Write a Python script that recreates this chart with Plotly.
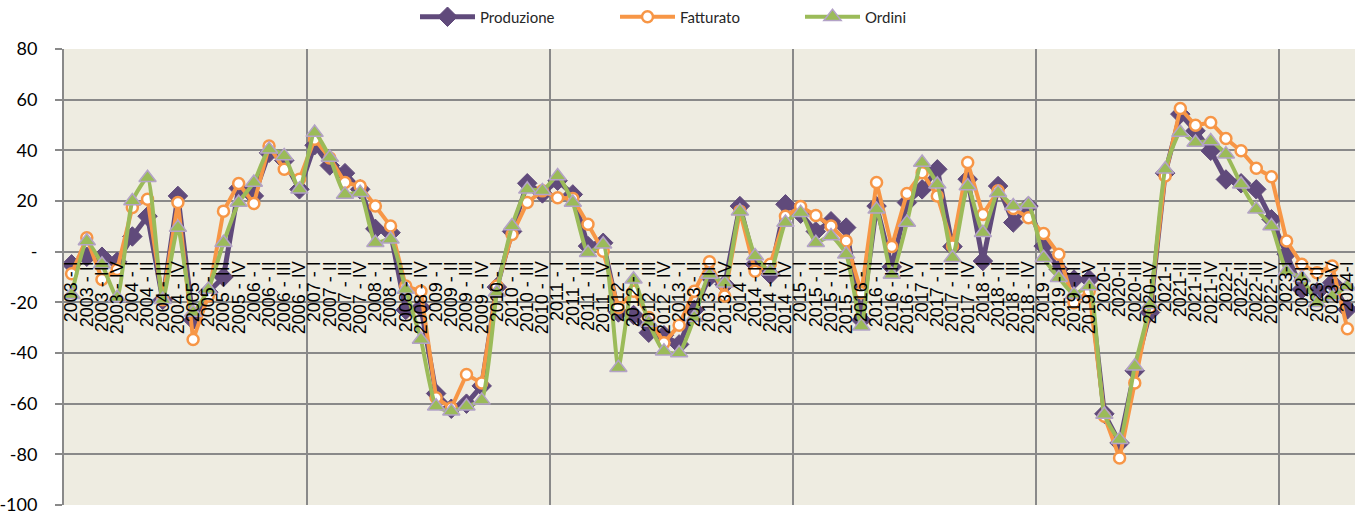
import plotly.graph_objects as go

years = list(range(2003, 2025))
quarters = ["I", "II", "III", "IV"]
categories = []
for y in years:
    for q in quarters:
        if y == 2024 and q != "I":
            continue
        categories.append(f"{y} - {q}" if y < 2020 else f"{y}-{q}")

produzione = [-5, -2, -2, -4, 6, 14, -19, 22, -27, -16,
              -10, 25, 22, 39, 36, 24.6, 42, 34, 31, 24.6,
              9, 7.5, -23, -22, -56, -62, -60, -53, -14, 8,
              27, 23, 28, 22.6, 2.2, 3.5, -24, -25, -32, -33,
              -36.6, -23, -10, -13, 18, -5, -9, 18.7, 15, 8,
              12, 9.5, -27, 18, -6, 19.4, 24.6, 32.5, 2, 28.6,
              -3.7, 25.9, 11.5, 18, 2.2, -7, -11, -11, -64, -75.5,
              -47, -24, 31, 54.3, 47.7, 39.8, 28.5, 27, 24.6, 12.8,
              -1, -14.9, -16, -12.3, -22.8]
fatturato = [-8.7, 5.5, -11, -7, 17.4, 20.7, -19, 19.4, -34.7, -17.5,
             16, 26.9, 19, 41.7, 32.5, 28.6, 44.4, 37, 27.3, 25.9,
             18, 10.1, -13.6, -15.6, -57.7, -61.7, -48.5, -51.8, -13.6, 6.8,
             19.4, 24, 21.3, 21, 10.8, 0.2, -22.1, -15.6, -26, -36,
             -29, -15.6, -4, -17.5, 16, -7.7, -5, 14, 17.8, 14.3,
             10.1, 4.2, -16.2, 27.3, 2, 23, 31.2, 22, 2.2, 35.2,
             14.7, 24, 17, 13.4, 7.2, -1, -20.2, -15.6, -65, -81.4,
             -51.8, -22, 29.9, 56.5, 49.9, 51, 44.7, 39.8, 32.9, 29.6,
             4.2, -5, -8.3, -5.7, -30.4]
ordini = [-17, 4.2, -5, -18.2, 20, 29.2, -19, 9.5, -24, -14.9,
          3.5, 19.4, 27.3, 40.4, 37.8, 24.6, 47, 37.2, 22.6, 23.3,
          3.5, 4.9, -14.9, -34.7, -61, -63, -61, -58.7, -16, 10.1,
          24.6, 24, 29.9, 19.4, -0.4, 2.9, -45.8, -10.9, -28, -39.3,
          -40, -26, -9, -12.5, 16, -1.7, -7.7, 11.5, 15.4, 3.5,
          6.2, -1, -29.4, 16.7, -9, 11.5, 35.2, 26.6, -2.4, 25.9,
          7.5, 23.3, 18, 18.7, -2.4, -10.3, -16.9, -13.6, -64.3, -74.2,
          -45.2, -21, 32.5, 47, 43.1, 43.7, 38.5, 26.6, 16.7, 10.1,
          -7.7, -10.3, -20.2, -17.5, -13.6]

y_ticks = [80, 60, 40, 20, 0, -20, -40, -60, -80, -100]
y_ticktext = ["80", "60", "40", "20", "-", "-20", "-40", "-60", "-80", "-100"]
group_size = 16  # categories between vertical gridlines

GRID = "#898989"
PURPLE = "#604A7B"
ORANGE = "#F79646"
GREEN = "#9BBB59"
LAVENDER = "#B3A2C7"

fig = go.Figure()
fig.add_trace(go.Scatter(
    x=categories, y=produzione, name="Produzione", mode="lines+markers", legend="legend",
    line=dict(color=PURPLE, width=5),
    marker=dict(symbol="diamond", size=15, color=PURPLE, line=dict(color=PURPLE, width=1))))
fig.add_trace(go.Scatter(
    x=categories, y=fatturato, name="Fatturato", mode="lines+markers", legend="legend2",
    line=dict(color=ORANGE, width=4),
    marker=dict(symbol="circle", size=11, color="white", line=dict(color=ORANGE, width=2.5))))
fig.add_trace(go.Scatter(
    x=categories, y=ordini, name="Ordini", mode="lines+markers", legend="legend3",
    line=dict(color=GREEN, width=4, shape="spline", smoothing=0.5),
    marker=dict(symbol="triangle-up", size=15, color=GREEN, line=dict(color=LAVENDER, width=1.5))))
# empty helper trace so the overlay axis carrying the vertical gridlines is drawn
fig.add_trace(go.Scatter(x=[None], y=[None], xaxis="x2", showlegend=False, hoverinfo="skip"))

n = len(categories)
grid_vals = [k * group_size - 0.5 for k in range(1, n // group_size + 1) if k * group_size - 0.5 < n - 0.5]

y_min, y_max = -100, 80
zero_pos = (0 - y_min) / (y_max - y_min)

leg_common = dict(orientation="h", xref="container", yref="container", y=1 - 17 / 517,
                  yanchor="middle", xanchor="left", itemwidth=55,
                  font=dict(family="Lato", size=15, color="#262626"), bgcolor="rgba(0,0,0,0)")

fig.update_layout(
    width=1365, height=517,
    margin=dict(l=64, r=10, t=49, b=12, autoexpand=False),
    paper_bgcolor="white",
    plot_bgcolor="#EEECE1",
    showlegend=True,
    legend=dict(leg_common, x=415 / 1365),
    legend2=dict(leg_common, x=615 / 1365),
    legend3=dict(leg_common, x=800 / 1365),
    xaxis=dict(type="category", categoryorder="array", categoryarray=categories,
               tickmode="array", tickvals=categories, ticktext=categories,
               range=[-0.5, n - 0.5], anchor="free", position=zero_pos,
               showgrid=False, showline=False, zeroline=False, ticks="",
               tickangle=-90, automargin=False, ticklabelstandoff=5,
               tickfont=dict(family="Liberation Sans", size=18, color="black")),
    xaxis2=dict(overlaying="x", range=[-0.5, n - 0.5], anchor="y", side="bottom",
                tickmode="array", tickvals=grid_vals, showticklabels=False,
                showgrid=True, gridcolor=GRID, gridwidth=2, ticks="",
                showline=False, zeroline=False),
    yaxis=dict(range=[y_min, y_max], tickmode="array", tickvals=y_ticks, ticktext=y_ticktext,
               showgrid=True, gridcolor=GRID, gridwidth=2, zeroline=False,
               showline=True, linecolor=GRID, linewidth=2,
               ticks="outside", ticklen=7, tickwidth=2, tickcolor=GRID,
               ticklabelstandoff=14, automargin=False,
               tickfont=dict(family="Lato", size=18, color="black")),
)
fig.write_html("out.html", config={"displayModeBar": False},
               post_script="document.body.style.margin='0';document.body.style.overflow='hidden';")
